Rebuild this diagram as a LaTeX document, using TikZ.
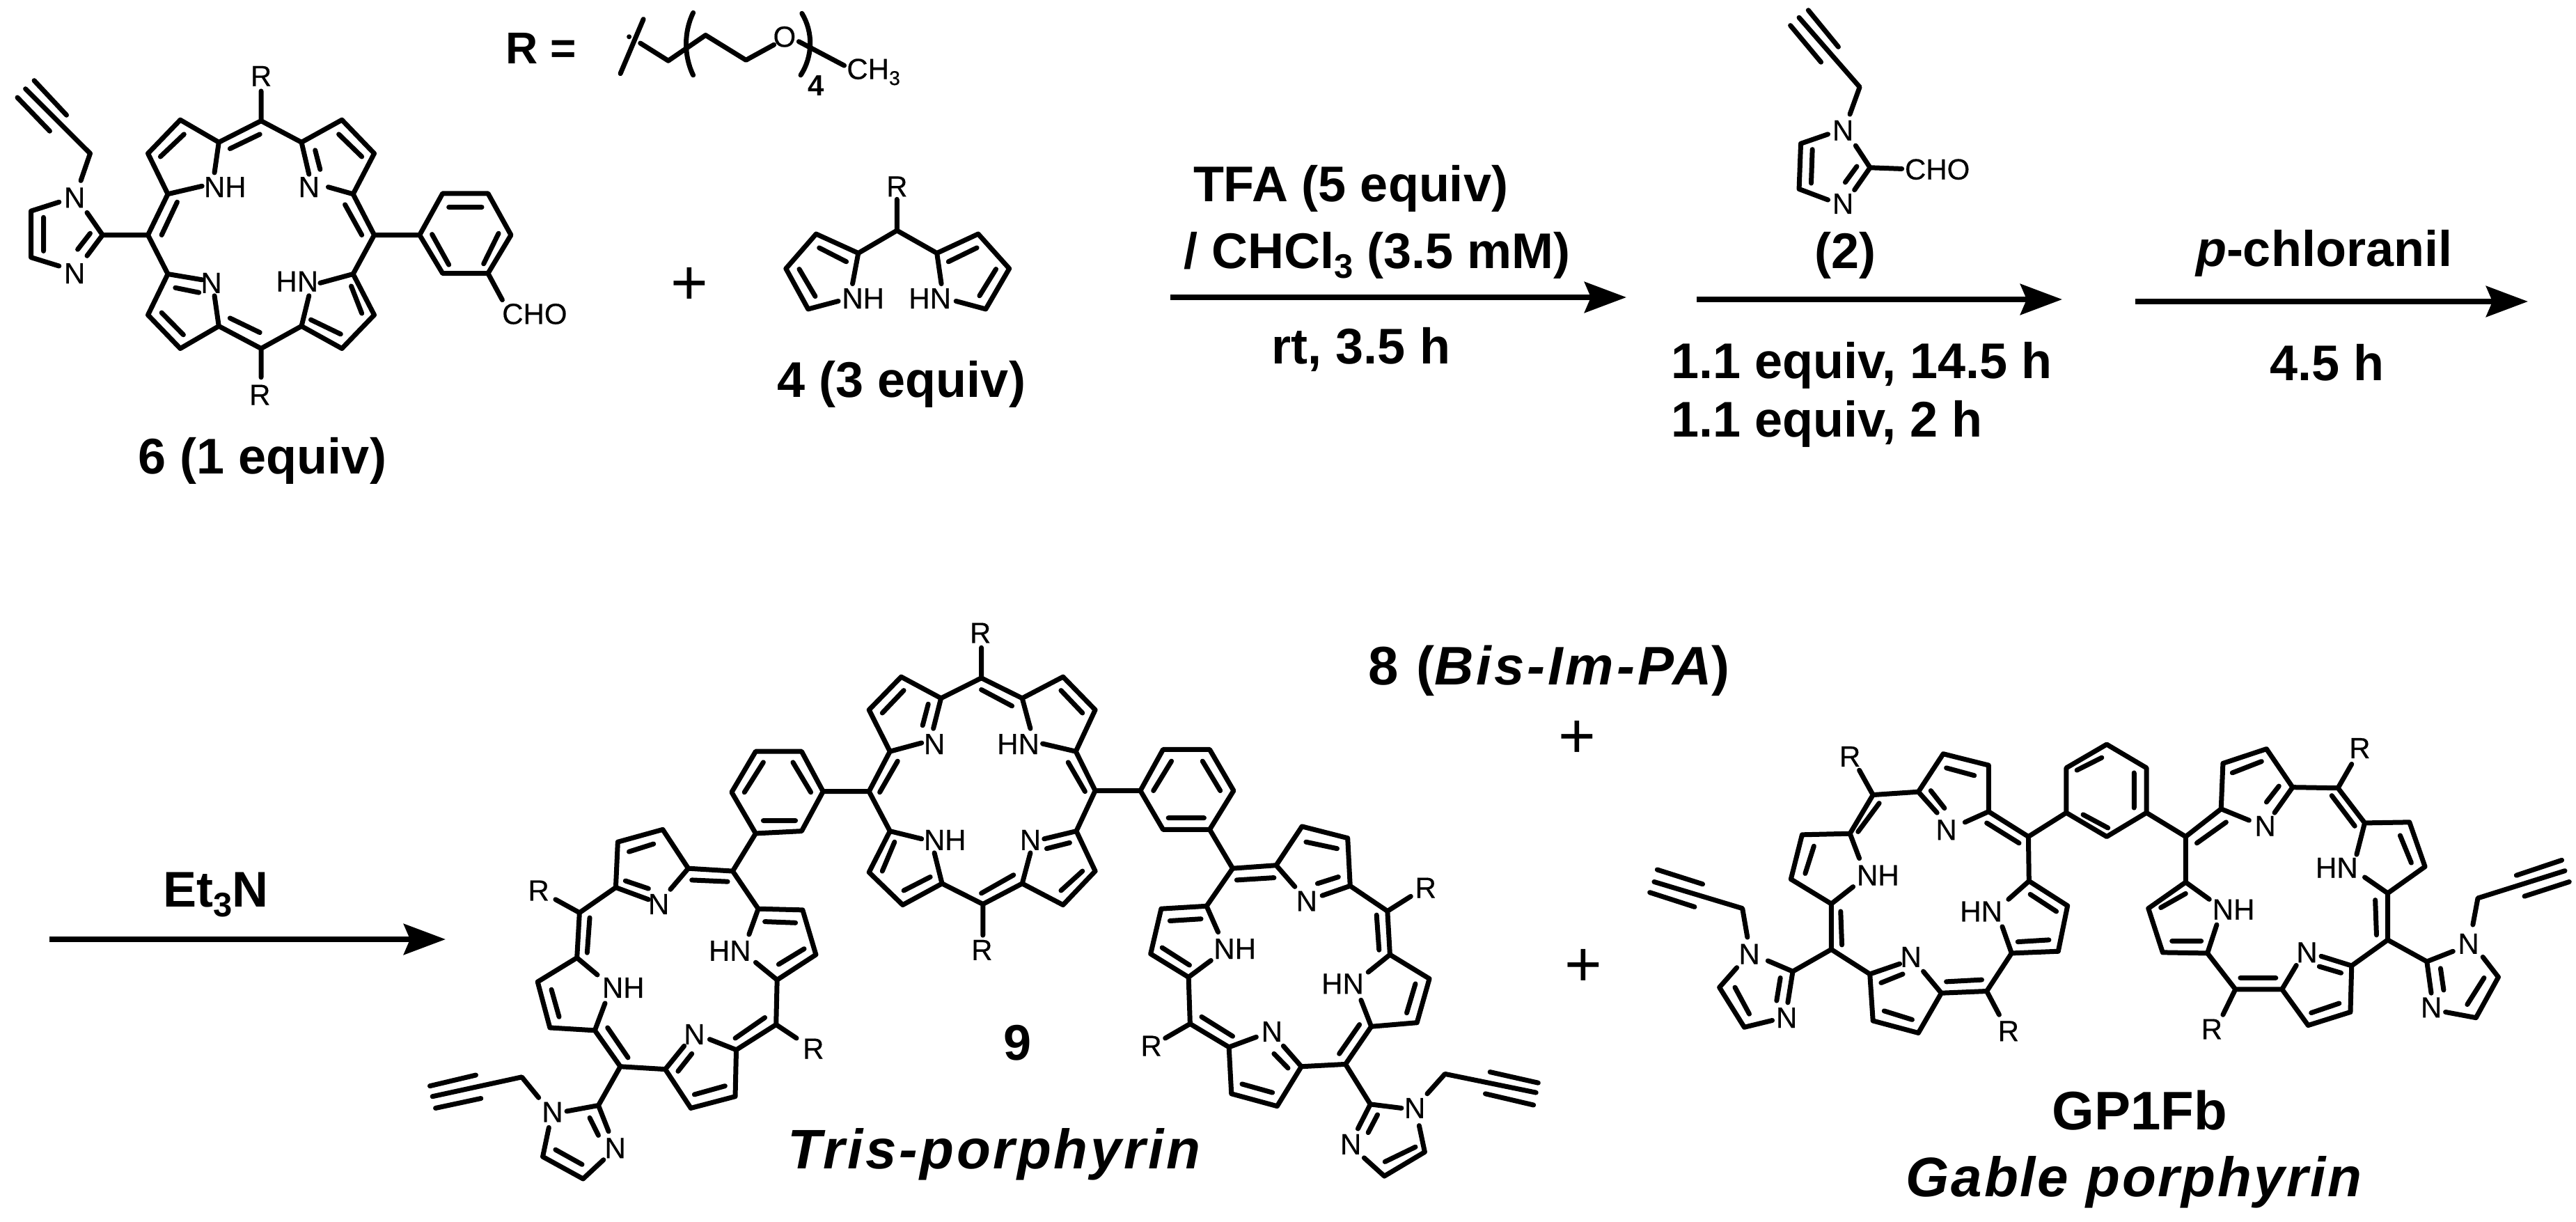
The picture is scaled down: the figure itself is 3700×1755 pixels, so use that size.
\documentclass[tikz,border=0pt]{standalone}
\usepackage{fontspec}
\usetikzlibrary{arrows.meta}
\newfontfamily\lib{Liberation Sans}
\newfontfamily\libat[FakeBold=0.35]{Liberation Sans}
\newfontfamily\libA[LetterSpace=4.5]{Liberation Sans}
\newfontfamily\libB[LetterSpace=5]{Liberation Sans}
\newfontfamily\libC[LetterSpace=3.5]{Liberation Sans}
\newcommand\lowsub[1]{\raisebox{-.2em}{\scalebox{.68}{#1}}}
\tikzset{
  bond/.style={draw=black,line width=7pt,line cap=round,line join=round},
  rxn/.style={draw=black,line width=8pt,-{Stealth[length=60pt,width=44pt,inset=9pt]}},
  atom/.style={font=\libat\fontsize{42}{42}\selectfont,inner sep=0pt,text=black},
  big/.style={font=\lib\bfseries\fontsize{72}{72}\selectfont,anchor=base,inner sep=0pt,text=black},
  plus/.style={font=\lib\fontsize{92}{92}\selectfont,inner sep=0pt,text=black},
  zA/.style={shift={(0,0)},x=.8929pt,y=-.4592pt},
  zB/.style={shift={(1000,0)},x=.6378pt,y=-.3827pt},
  zC/.style={shift={(2400,0)},x=.8291pt,y=-.4209pt},
  zD/.style={shift={(550,880)},x=.7334pt,y=-.5580pt},
  zE/.style={shift={(1600,880)},x=.4464pt,y=-.5580pt},
  zF/.style={shift={(2300,900)},x=.8929pt,y=-.5453pt},
}
\begin{document}
\begin{tikzpicture}[x=1pt,y=-1pt]
\fill[white] (0,0) rectangle (3700,1755);
\useasboundingbox (0,0) rectangle (3700,1755);

%----- compound 6 and R definition
\begin{scope}[zA]
\draw[bond] (420,378)--(352,445)--(290,375)--(238,480)--(270,607)--(238,735)--(270,857)--(238,985)--(290,1090)--(352,1020)--(420,1090)--(485,1020)--(550,1090)--(602,985)--(568,857)--(602,735)--(568,607)--(602,480)--(550,375)--(485,445)--cycle
 (270,607)--(325,582) (352,445)--(345,540) (568,607)--(528,585) (485,445)--(497,545)
 (270,857)--(325,875) (352,1020)--(345,925) (485,1020)--(497,925) (568,857)--(515,885)
 (370,465)--(418,420) (296,420)--(258,490) (285,632)--(260,735) (282,900)--(320,915) (260,978)--(295,1047)
 (370,995)--(418,1040) (500,1000)--(548,1045) (565,895)--(582,980) (555,640)--(582,735) (507,470)--(515,530) (545,420)--(582,490)
 (420,378)--(420,285) (420,1090)--(420,1180)
 (602,735)--(675,735)--(712,605)--(785,605)--(822,735)--(785,855)--(712,855)--(675,735)
 (722,648)--(775,648) (695,733)--(722,828) (802,730)--(778,825) (785,855)--(808,938)
 (238,735)--(165,735)--(140,665) (165,735)--(140,800) (145,730)--(125,780)
 (95,632)--(50,660)--(50,805)--(95,832) (70,680)--(70,785)
 (130,565)--(145,480)--(41,278) (55,252)--(107,360) (28,305)--(80,410);
\node[atom] (aR1) at (420,238) {R};
\node[atom] (aR2) at (418,1235) {R};
\node[atom] (aN1) at (345,585) {N\rlap{H}};
\node[atom] (aN2) at (497,585) {N};
\node[atom] (aN3) at (340,885) {N};
\node[atom] (aN4) at (495,880) {\llap{H}N};
\node[atom] (aCHO) at (860,982) {CHO};
\node[atom] (aN5) at (120,618) {N};
\node[atom] (aN6) at (120,855) {N};
% R chain
\draw[bond] (1035,60)--(998,230) (1030,135)--(1075,190)--(1135,110)--(1200,188)--(1245,140)
 (1285,130)--(1358,205);
\fill (1012,115) circle (3.5pt);
\draw[bond] (1115,40) .. controls (1100,100) and (1100,175) .. (1115,235);
\draw[bond] (1290,42) .. controls (1308,100) and (1308,175) .. (1288,235);
\node[atom] (rO) at (1262,115) {O};
\node[atom,anchor=west] (rCH) at (1362,225) {CH\lowsub{3}};
\node[atom,font=\lib\bfseries\fontsize{42}{42}\selectfont] (r4) at (1313,268) {4};
\node[big,font=\lib\bfseries\fontsize{64}{64}\selectfont,anchor=center] (rlab) at (870,152) {R =};
\end{scope}
\node[big] (t6) at (377,680) {6 (1 equiv)};
\node[plus] (p1) at (990,411) {+};

%----- compound 4
\begin{scope}[zB]
\draw[bond] (452,748)--(452,865) (352,1065)--(365,950)--(452,865)--(542,950)--(552,1065)
 (365,950)--(270,878)--(202,1008)--(252,1160)--(320,1130)
 (542,950)--(635,878)--(705,1008)--(652,1160)--(585,1130)
 (338,982)--(277,930) (232,1010)--(268,1112) (568,982)--(632,930) (675,1010)--(638,1110);
\node[atom] (bR) at (452,700) {R};
\node[atom] (bN1) at (352,1120) {N\rlap{H}};
\node[atom] (bN2) at (550,1120) {\llap{H}N};
\end{scope}
\node[big] (t4) at (1295,570) {4 (3 equiv)};

%----- conditions, arrow 1
\node[big] (c1) at (1940,289) {TFA (5 equiv)};
\node[big] (c2) at (1978,385) {/ CHCl\lowsub{3} (3.5 mM)};
\node[big] (c3) at (1955,522) {rt, 3.5 h};
\coordinate (ar1s) at (1681,427); \coordinate (ar1e) at (2336,427);
\draw[rxn] (ar1s)--(ar1e);

%----- compound 2
\begin{scope}[zC]
\draw[bond] (310,390)--(327,297)--(222,60) (238,35)--(290,160) (207,87)--(260,212)
 (272,458)--(225,490)--(222,645)--(272,682) (245,510)--(243,625)
 (320,497)--(345,572)--(318,648) (322,568)--(302,622) (345,572)--(400,576);
\node[atom] (cN1) at (298,445) {N};
\node[atom] (cN2) at (298,695) {N};
\node[atom,anchor=west] (cCHO) at (405,578) {CHO};
\end{scope}
\node[big] (t2) at (2650,385) {(2)};
\node[big,anchor=base west] (c4) at (2400,543) {1.1 equiv, 14.5 h};
\node[big,anchor=base west] (c5) at (2400,627) {1.1 equiv, 2 h};
\coordinate (ar2s) at (2437,430); \coordinate (ar2e) at (2962,430);
\draw[rxn] (ar2s)--(ar2e);
\node[big] (c6) at (3338,382) {{\itshape p}-chloranil};
\node[big] (c7) at (3342,546) {4.5 h};
\coordinate (ar3s) at (3067,433); \coordinate (ar3e) at (3631,433);
\draw[rxn] (ar3s)--(ar3e);

%----- arrow 4
\node[big] (c8) at (310,1302) {Et\lowsub{3}N};
\coordinate (ar4s) at (71,1349); \coordinate (ar4e) at (640,1349);
\draw[rxn] (ar4s)--(ar4e);

%----- compound 9, left and centre
\begin{scope}[zD]
% centre porphyrin
\draw[bond] (1172,168)--(1093,220)--(1015,165)--(952,250)--(993,357)--(952,460)--(993,562)--(952,668)--(1018,752)--(1095,697)--(1175,750)--(1252,697)--(1332,752)--(1395,665)--(1358,562)--(1395,458)--(1357,357)--(1395,250)--(1332,165)--(1252,220)--cycle
 (993,357)--(1055,335) (1093,220)--(1078,298) (1357,357)--(1292,337) (1252,220)--(1268,298)
 (993,562)--(1055,582) (1095,697)--(1080,618) (1252,697)--(1268,618) (1358,562)--(1295,582)
 (1020,200)--(978,258) (1068,235)--(1057,290) (1172,198)--(1232,240) (1328,200)--(1370,258)
 (1008,382)--(973,462) (1002,590)--(978,665) (1020,715)--(1072,680) (1172,722)--(1235,675)
 (1328,715)--(1370,665) (1300,607)--(1345,592) (1342,385)--(1375,460)
 (1172,168)--(1172,90) (1175,750)--(1175,830)
% left phenyl
 (952,460)--(862,460)--(820,357)--(730,357)--(683,462)--(730,568)--(820,562)--(862,460)
 (803,385)--(838,462) (745,385)--(708,462) (745,535)--(808,535)
 (730,568)--(685,665)
% left porphyrin
 (685,665)--(598,658)--(548,558)--(460,590)--(456,707)--(385,772)--(380,888)--(303,950)--(327,1068)--(415,1075)--(465,1168)--(553,1175)--(603,1275)--(690,1245)--(692,1125)--(770,1060)--(772,945)--(848,880)--(822,765)--(735,762)--cycle
 (598,658)--(563,712) (456,707)--(520,738) (380,888)--(420,932) (415,1075)--(435,1005)
 (553,1175)--(590,1115) (692,1125)--(640,1098) (772,945)--(730,900) (735,762)--(717,828)
 (605,688)--(675,692) (530,595)--(482,615) (475,690)--(520,710) (405,785)--(400,875)
 (330,970)--(345,1040) (440,1068)--(480,1145) (578,1180)--(605,1135) (610,1240)--(670,1218)
 (690,1095)--(748,1042) (775,905)--(825,865) (748,795)--(808,798)
 (385,772)--(338,738) (770,1060)--(810,1095)
% left imidazole
 (465,1168)--(422,1268)--(360,1283) (305,1248)--(272,1195)--(97,1245)
 (92,1218)--(182,1190) (103,1275)--(192,1250)
 (422,1268)--(442,1335) (405,1300)--(422,1345)
 (325,1325)--(313,1400)--(392,1457)--(432,1408) (338,1382)--(390,1420);
\node[atom] (dN1) at (1080,338) {N};
\node[atom] (dN2) at (1265,338) {\llap{H}N};
\node[atom] (dN3) at (1080,585) {N\rlap{H}};
\node[atom] (dN4) at (1268,585) {N};
\node[atom] (dR1) at (1170,52) {R};
\node[atom] (dR2) at (1173,868) {R};
\node[atom] (dN5) at (540,750) {N};
\node[atom] (dN6) at (450,965) {N\rlap{H}};
\node[atom] (dN7) at (610,1085) {N};
\node[atom] (dN8) at (700,870) {\llap{H}N};
\node[atom] (dR3) at (305,715) {R};
\node[atom] (dR4) at (843,1122) {R};
\node[atom] (dN9) at (332,1285) {N};
\node[atom] (dN10) at (455,1378) {N};
\end{scope}

%----- compound 9, right
\begin{scope}[zE]
\draw[bond] (-60,458)--(85,458)--(158,352)--(308,352)--(385,458)--(308,558)--(158,558)--(85,458)
 (127,458)--(185,382) (285,382)--(342,458) (175,528)--(290,528)
 (308,558)--(382,658)
 (382,658)--(522,650)--(605,550)--(752,580)--(760,703)--(880,768)--(888,880)--(1015,942)--(975,1055)--(828,1065)--(745,1162)--(603,1168)--(525,1270)--(378,1238)--(370,1118)--(245,1058)--(240,938)--(118,878)--(152,762)--(298,755)--cycle
 (522,650)--(582,705) (760,703)--(670,728) (888,880)--(818,925) (828,1065)--(795,997)
 (603,1168)--(545,1115) (370,1118)--(458,1092) (240,938)--(312,895) (298,755)--(335,822)
 (395,688)--(515,682) (618,590)--(718,607) (655,697)--(722,680) (845,778)--(853,868)
 (970,955)--(942,1030) (790,1060)--(725,1135) (515,1135)--(560,1172) (510,1235)--(412,1213)
 (382,1090)--(282,1040) (243,907)--(155,862) (180,793)--(280,788)
 (880,768)--(955,730) (245,1058)--(165,1095)
 (745,1162)--(825,1265)--(925,1275) (1008,1238)--(1065,1187)--(1358,1235)
 (1210,1182)--(1365,1210) (1195,1238)--(1350,1267)
 (825,1265)--(785,1328) (848,1292)--(818,1338)
 (982,1320)--(1000,1388)--(870,1450)--(805,1403) (970,1375)--(872,1413);
\node[atom] (eN1) at (620,742) {N};
\node[atom] (eR1) at (1003,708) {R};
\node[atom] (eN2) at (770,955) {\llap{H}N};
\node[atom] (eN3) at (508,1078) {N};
\node[atom] (eR2) at (120,1115) {R};
\node[atom] (eN4) at (355,865) {N\rlap{H}};
\node[atom] (eN5) at (968,1275) {N};
\node[atom] (eN6) at (762,1368) {N};
\end{scope}
\node[big] (t9) at (1462,1522) {9};
\node[big,font=\libA\bfseries\itshape\fontsize{80}{80}\selectfont] (tTris) at (1428,1678) {Tris-porphyrin};
\node[big,font=\libB\bfseries\fontsize{78}{78}\selectfont] (t8) at (2225,983) {8 ({\itshape Bis-Im-PA})};
\node[plus] (p2) at (2265,1062) {+};
\node[plus] (p3) at (2274,1390) {+};

%----- GP1Fb
\begin{scope}[zF]
\draw[bond] (813,310)--(877,372)--(877,490)--(813,553)--(748,490)--(748,372)--cycle
 (805,345)--(765,378) (857,385)--(857,477) (775,495)--(815,530)
 (748,490)--(687,553) (877,490)--(940,553)
% left porphyrin
 (687,553)--(623,487)--(623,365)--(550,335)--(510,435)--(437,443)--(400,545)--(323,548)--(305,665)--(370,730)--(370,850)--(432,915)--(437,1038)--(510,1070)--(547,965)--(620,960)--(660,860)--(735,855)--(750,735)--(688,670)--cycle
 (623,487)--(585,515) (510,435)--(540,490) (400,545)--(415,610) (370,730)--(405,685)
 (432,915)--(480,888) (547,965)--(518,908) (660,860)--(645,790) (688,670)--(655,718)
 (672,570)--(620,517) (600,392)--(555,372) (530,432)--(552,478) (447,465)--(413,540)
 (342,578)--(328,650) (385,750)--(387,838) (450,938)--(485,915) (455,1012)--(500,1035)
 (555,935)--(612,930) (670,830)--(720,825) (732,750)--(690,705)
 (437,443)--(415,378) (620,960)--(640,1022)
% left imidazole
 (370,850)--(308,908)--(268,880) (235,818)--(227,742)--(85,672)
 (90,640)--(163,678) (78,700)--(150,738)
 (218,898)--(190,950)--(230,1055)--(275,1037) (215,950)--(238,1020)
 (308,908)--(300,990) (288,925)--(282,985)
% right porphyrin
 (940,553)--(997,480)--(1000,360)--(1070,322)--(1112,423)--(1185,425)--(1228,517)--(1300,515)--(1325,632)--(1265,702)--(1265,825)--(1207,893)--(1205,1015)--(1137,1050)--(1095,955)--(1020,955)--(975,860)--(903,858)--(880,742)--(940,673)--cycle
 (997,480)--(1042,510) (1112,423)--(1083,490) (1228,517)--(1215,600) (1265,702)--(1228,660)
 (1207,893)--(1158,868) (1095,955)--(1118,892) (975,860)--(990,785) (940,673)--(978,718)
 (958,570)--(1005,515) (1015,385)--(1062,355) (1090,420)--(1070,462) (1175,445)--(1212,525)
 (1285,550)--(1303,622) (1245,720)--(1247,812) (1190,912)--(1155,895) (1187,992)--(1142,1017)
 (1085,925)--(1028,925) (965,828)--(918,828) (900,740)--(940,703)
 (1185,425)--(1207,362) (1020,955)--(1000,1022)
% right imidazole
 (1265,825)--(1328,882)--(1370,855) (1402,785)--(1410,715)--(1550,643)
 (1472,655)--(1545,615) (1485,710)--(1557,672)
 (1418,870)--(1443,923)--(1407,1030)--(1358,1015) (1420,925)--(1393,995)
 (1328,882)--(1335,965) (1350,900)--(1355,957);
\node[atom] (fN1) at (555,535) {N};
\node[atom] (fR1) at (400,342) {R};
\node[atom] (fN2) at (428,655) {N\rlap{H}};
\node[atom] (fN3) at (498,870) {N};
\node[atom] (fR2) at (655,1065) {R};
\node[atom] (fN4) at (628,750) {\llap{H}N};
\node[atom] (fN5) at (238,862) {N};
\node[atom] (fN6) at (298,1030) {N};
\node[atom] (fN7) at (1068,525) {N};
\node[atom] (fR3) at (1220,320) {R};
\node[atom] (fN8) at (1200,635) {\llap{H}N};
\node[atom] (fN9) at (1135,858) {N};
\node[atom] (fR4) at (982,1060) {R};
\node[atom] (fN10) at (1000,745) {N\rlap{H}};
\node[atom] (fN11) at (1395,835) {N};
\node[atom] (fN12) at (1335,1003) {N};
\end{scope}
\node[big,font=\lib\bfseries\fontsize{78}{78}\selectfont] (tGP) at (3073,1622) {GP1Fb};
\node[big,font=\libC\bfseries\itshape\fontsize{80}{80}\selectfont] (tGab) at (3065,1718) {Gable porphyrin};
\end{tikzpicture}
\end{document}
